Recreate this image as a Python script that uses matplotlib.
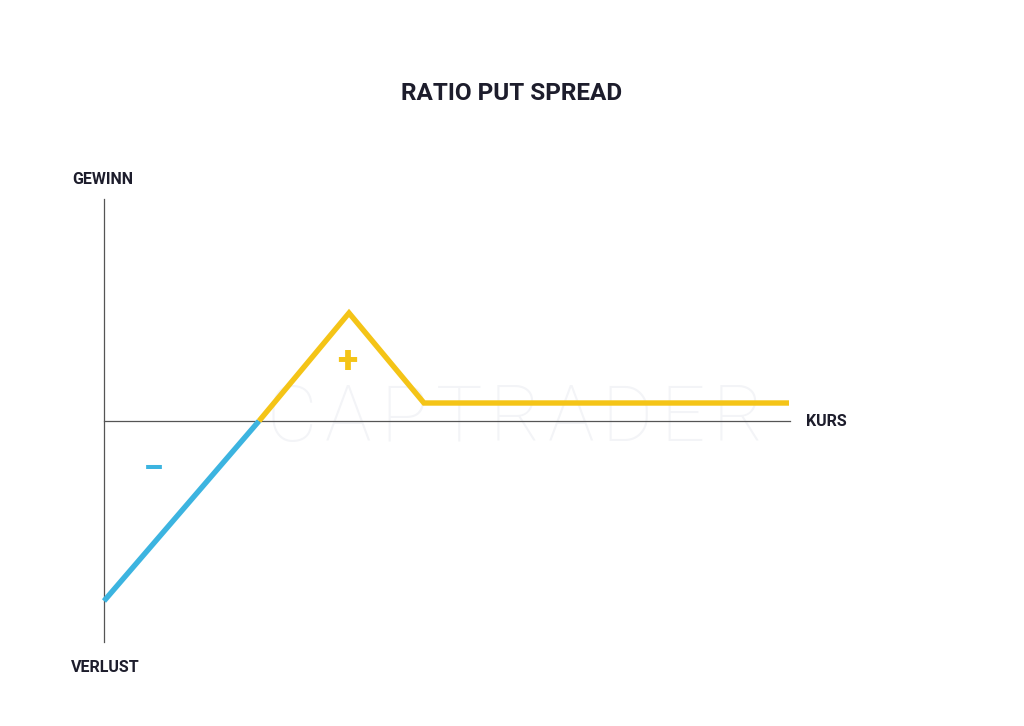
import matplotlib.pyplot as plt

# payoff diagram values (chart units, origin = axis crossing)
kurs_loss = [0, 31]
payoff_loss = [-36, 0]
kurs_gain = [31, 49, 64, 137]
payoff_gain = [0, 21.6, 3.6, 3.6]

title = "RATIO PUT SPREAD"
label_up = "GEWINN"
label_down = "VERLUST"
label_x = "KURS"
watermark = "CAPTRADER"

dark = "#1d1d2c"
yellow = "#f4c417"
blue = "#3cb4e0"

fig = plt.figure(figsize=(10.24, 7.26), dpi=100)
ax = fig.add_axes([0, 0, 1, 1])
ax.set_xlim(-20.8, 184)
ax.set_ylim(-61, 84.2)
ax.axis("off")

# watermark
for i, ch in enumerate(watermark):
    ax.text(37.6 + i * 11.15, 0.3, ch, fontsize=56, family="Roboto", fontweight="light",
            color="#f3f4f7", ha="center", va="center", zorder=0)

# axes
ax.plot([0, 0], [-44.2, 44.4], color="#555555", lw=0.9, zorder=1)
ax.plot([0, 137.2], [0, 0], color="#555555", lw=0.9, zorder=1)

ax.plot(kurs_loss, payoff_loss, color=blue, lw=3.9, solid_capstyle="butt", zorder=3)
ax.plot(kurs_gain, payoff_gain, color=yellow, lw=3.9, solid_capstyle="butt",
        solid_joinstyle="miter", zorder=3)

ax.text(48.6, 11.6, "+", fontsize=27, family="Roboto", fontweight="black", color=yellow,
        ha="center", va="center")
ax.text(9.8, -9.6, "\u2013", fontsize=22, family="Roboto", fontweight="black", color=blue,
        ha="center", va="center")

fig.text(0.5, 1 - 94 / 726, title, fontsize=17.5, family="Roboto", fontweight="bold",
         color=dark, ha="center", va="center")
fig.text(103 / 1024, 1 - 179 / 726, label_up, fontsize=11.5, family="Roboto",
         fontweight="bold", color=dark, ha="center", va="center")
fig.text(105 / 1024, 1 - 668 / 726, label_down, fontsize=11.5, family="Roboto",
         fontweight="bold", color=dark, ha="center", va="center")
fig.text(806 / 1024, 1 - 421 / 726, label_x, fontsize=11.5, family="Roboto",
         fontweight="bold", color=dark, ha="left", va="center")

fig.savefig("out.png", dpi=100, facecolor="white")
